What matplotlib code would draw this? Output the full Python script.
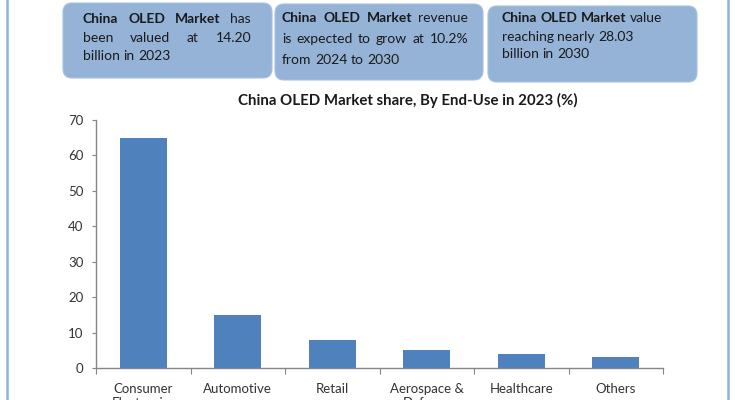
import numpy as np
import matplotlib.pyplot as plt
import matplotlib.transforms as mtransforms
from matplotlib.patches import FancyBboxPatch
from matplotlib.lines import Line2D

# ---- data ----
categories = ["Consumer\nElectronics", "Automotive", "Retail",
              "Aerospace &\nDefense", "Healthcare", "Others"]
shares = [65, 15, 8, 5, 4, 3]
y_ticks = [0, 10, 20, 30, 40, 50, 60, 70]
title = "China OLED Market share, By End-Use in 2023 (%)"

# callout boxes: each line is a list of (word, bold), plus a justify flag
box1_lines = [
    ([("China", True), ("OLED", True), ("Market", True), ("has", False)], True),
    ([("been", False), ("valued", False), ("at", False), ("14.20", False)], True),
    ([("billion", False), ("in", False), ("2023", False)], False),
]
box2_lines = [
    ([("China", True), ("OLED", True), ("Market", True), ("revenue", False)], True),
    ([("is", False), ("expected", False), ("to", False), ("grow", False),
      ("at", False), ("10.2%", False)], True),
    ([("from", False), ("2024", False), ("to", False), ("2030", False)], False),
]
box3_lines = [
    ([("China", True), ("OLED", True), ("Market", True), ("value", False)], False),
    ([("reaching", False), ("nearly", False), ("28.03", False)], False),
    ([("billion", False), ("in", False), ("2030", False)], False),
]

W, H = 735, 400
FONT = "Lato"
BAR_COLOR = "#4F81BD"
BOX_COLOR = "#95B3D7"
TEXT_COLOR = "#333333"
AXIS_COLOR = "#868686"

plt.rcParams['font.family'] = [FONT, 'DejaVu Sans']

fig = plt.figure(figsize=(W / 100, H / 100), dpi=100, facecolor='white')
# pixel coordinates, origin top-left
px = mtransforms.Affine2D().scale(1 / W, -1 / H).translate(0, 1) + fig.transFigure

# side border lines
for xb in (7, 728):
    fig.add_artist(Line2D([xb, xb], [0, H], transform=px, color="#8DB3E2", lw=1.8))

# ---- bar chart ----
ax = fig.add_axes([96 / W, 1 - 368 / H, (663 - 96) / W, (368 - 120) / H])
x = np.arange(len(categories))
ax.bar(x, shares, width=0.5, color=BAR_COLOR, zorder=2)
ax.set_xlim(-0.5, len(categories) - 0.5)
ax.set_ylim(0, 70)
ax.set_yticks(y_ticks)
ax.tick_params(axis='y', length=3, color=AXIS_COLOR, labelsize=9.5,
               labelcolor=TEXT_COLOR, pad=6)
ax.set_xticks(np.arange(len(categories) + 1) - 0.5)
ax.set_xticklabels([])
ax.set_xticks(x, minor=True)
ax.set_xticklabels(categories, minor=True, fontsize=9.5, color=TEXT_COLOR)
ax.tick_params(axis='x', which='major', length=4, color=AXIS_COLOR)
ax.tick_params(axis='x', which='minor', length=0, pad=11)
for s in ('top', 'right'):
    ax.spines[s].set_visible(False)
for s in ('left', 'bottom'):
    ax.spines[s].set_color(AXIS_COLOR)
    ax.spines[s].set_linewidth(1.0)

fig.text(408, 100, title, transform=px, ha='center', va='center',
         fontsize=10.8, fontweight='bold', color="#1a1a1a")

# ---- callout boxes ----
renderer = fig.canvas.get_renderer()


def word_width(word, bold):
    t = fig.text(0, 0, word, fontsize=10, fontweight='bold' if bold else 'normal')
    w = t.get_window_extent(renderer).width
    t.remove()
    return w


space_w = word_width("a a", False) - 2 * word_width("a", False)


def draw_box(x0, y0, x1, y1, lines, tx0, tx1, ys):
    fig.add_artist(FancyBboxPatch((x0, y0), x1 - x0, y1 - y0,
                                  boxstyle="round,pad=0,rounding_size=9",
                                  transform=px, facecolor=BOX_COLOR,
                                  edgecolor="#A9C0DE", lw=0.8))
    for (words, justify), yl in zip(lines, ys):
        widths = [word_width(w, b) for w, b in words]
        if justify and len(words) > 1:
            gap = (tx1 - tx0 - sum(widths)) / (len(words) - 1)
        else:
            gap = space_w
        xc = tx0
        for (w, b), wd in zip(words, widths):
            fig.text(xc, yl, w, transform=px, ha='left', va='center',
                     fontsize=10, fontweight='bold' if b else 'normal',
                     color="#1a1a1a")
            xc += wd + gap


draw_box(63, 3, 272, 78, box1_lines, 83, 251, [19, 37.5, 56])
draw_box(275, 4, 483, 80, box2_lines, 282, 468, [18, 39, 60])
draw_box(488, 6, 697, 82, box3_lines, 502, 690, [18, 37, 54])

fig.savefig("out.png", dpi=100)
